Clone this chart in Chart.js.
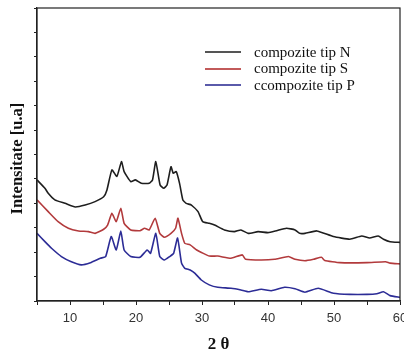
<!DOCTYPE html>
<html><head><meta charset="utf-8">
<script src="https://cdn.jsdelivr.net/npm/chart.js@4.4.1/dist/chart.umd.min.js"></script>
<style>
html,body{margin:0;padding:0;background:#fff;}
#wrap{position:relative;width:404px;height:355px;}
#legend{position:absolute;left:205px;top:44px;font-family:"Liberation Serif","Times New Roman",serif;font-size:15px;color:#111;}
.row{display:flex;align-items:center;height:16.5px;}
.sw{width:36px;height:2px;margin-right:13px;}
</style></head><body>
<div id="wrap"><canvas id="c" width="404" height="355"></canvas><div id="legend"></div></div>
<script>
const seriesNames = ["compozite tip N", "compozite tip S", "ccompozite tip P"];
const seriesColors = ["#1e1e1e", "#b23a3c", "#2c2c96"];
const legendColors = ["#555555", "#c25a5a", "#5a5aaa"];

const nX = [5,6.2,6.7,7.7,9.25,10.8,12.3,13.8,15.1,15.6,16.35,17.1,17.8,18.2,19.2,19.9,20.8,22.0,22.5,23.0,23.65,24.2,24.7,25.3,25.65,26.1,26.6,27.1,27.6,28.4,29.4,30.1,31.1,31.9,33.4,34.9,35.9,37.0,38.5,40.0,41.3,42.8,44.1,44.8,45.6,47.4,49.9,52.4,54.2,55.4,56.7,57.5,58.5,60];
const nY = [4.96,4.62,4.41,4.14,4.0,3.85,3.93,4.07,4.27,4.55,5.37,5.1,5.71,5.3,4.89,4.96,4.82,4.82,4.96,5.71,4.75,4.62,4.75,5.5,5.23,5.3,4.82,4.14,4.0,3.93,3.66,3.25,3.18,3.11,2.91,2.84,2.91,2.77,2.84,2.8,2.88,2.98,2.91,2.77,2.77,2.87,2.64,2.53,2.66,2.58,2.66,2.53,2.43,2.4];

const sX = [5,6.7,8.2,9.75,11.3,12.8,13.8,15.1,15.7,16.35,17.0,17.7,18.2,19.2,20.6,21.3,22.0,22.9,23.6,24.3,25.3,26.0,26.35,26.9,27.4,28.2,29.2,30.2,31.1,32.4,34.4,36.1,36.6,39.0,41.0,43.1,44.1,45.6,46.9,48.1,48.6,50.9,55.0,57.8,58.5,60];
const sY = [4.14,3.66,3.25,2.98,2.87,2.84,2.77,2.94,3.11,3.59,3.25,3.8,3.18,2.91,2.88,2.98,2.91,3.39,2.77,2.61,2.77,2.98,3.39,2.77,2.36,2.3,2.09,1.95,1.84,1.84,1.75,1.89,1.71,1.68,1.71,1.82,1.71,1.65,1.71,1.79,1.66,1.57,1.57,1.61,1.55,1.52];

const pX = [5,6.2,7.2,8.7,10.2,11.7,13.1,14.6,15.4,16.25,17.0,17.7,18.2,19.2,20.6,21.7,22.2,23.0,23.6,24.3,25.1,25.7,26.3,26.9,27.4,28.2,28.9,29.9,31.1,32.4,34.4,35.9,37.0,39.0,40.5,42.5,44.1,45.6,47.6,49.9,52.4,55,56.5,57.5,58.5,60];
const pY = [2.77,2.43,2.16,1.82,1.61,1.48,1.57,1.75,1.82,2.64,2.09,2.86,2.09,1.82,1.79,2.09,1.95,2.77,1.82,1.68,1.82,1.95,2.58,1.55,1.34,1.27,1.14,0.86,0.66,0.56,0.52,0.45,0.38,0.48,0.42,0.56,0.5,0.36,0.52,0.32,0.27,0.27,0.3,0.38,0.22,0.15];

const xTickLabels = [10,20,30,40,50,60];

function pts(xs, ys){ return xs.map((x,i)=>({x:x,y:ys[i]})); }

const lg = document.getElementById('legend');
seriesNames.forEach((n,i)=>{
  const r=document.createElement('div'); r.className='row';
  const s=document.createElement('div'); s.className='sw'; s.style.background=legendColors[i];
  const t=document.createElement('span'); t.textContent=n;
  r.appendChild(s); r.appendChild(t); lg.appendChild(r);
});

const boxPlugin = {
  id:'box',
  afterDraw(chart){
    const a=chart.chartArea, ctx=chart.ctx;
    ctx.save(); ctx.strokeStyle='#222'; ctx.lineWidth=1.2;
    ctx.strokeRect(a.left, a.top, a.right-a.left, a.bottom-a.top);
    ctx.restore();
  }
};

new Chart(document.getElementById('c'), {
  type:'line',
  data:{datasets:[
    {label:seriesNames[0], data:pts(nX,nY), borderColor:seriesColors[0]},
    {label:seriesNames[1], data:pts(sX,sY), borderColor:seriesColors[1]},
    {label:seriesNames[2], data:pts(pX,pY), borderColor:seriesColors[2]}
  ]},
  options:{
    responsive:false, animation:false,
    layout:{padding:{top:8,right:4,left:0,bottom:0}},
    elements:{line:{borderWidth:1.6,tension:0.15},point:{radius:0}},
    plugins:{legend:{display:false},tooltip:{enabled:false}},
    scales:{
      x:{type:'linear',min:5,max:60,
        afterFit(s){ s.height=54; s.paddingLeft=0; s.paddingRight=0; },
        ticks:{stepSize:5,autoSkip:false,maxRotation:0,color:'#333',padding:6,
          font:{family:'"Liberation Sans", Arial, sans-serif',size:13},
          callback:v=> xTickLabels.includes(v)? String(v):''},
        grid:{drawOnChartArea:false,tickLength:4,color:'#222'},
        border:{color:'#222',width:1.2},
        title:{display:true,text:'2 θ',color:'#111',padding:{top:8,bottom:0},
          font:{family:'"Liberation Serif", serif',size:17,weight:'bold'}}
      },
      y:{min:0,max:12,
        afterFit(s){ s.width=37; },
        ticks:{display:false,stepSize:1},
        grid:{drawOnChartArea:false,tickLength:3,color:'#222'},
        border:{color:'#222',width:1.2},
        title:{display:true,text:'Intensitate [u.a]  ',color:'#111',padding:{top:8,bottom:0},
          font:{family:'"Liberation Serif", serif',size:16.5,weight:'bold'}}
      }
    }
  },
  plugins:[boxPlugin]
});
</script></body></html>
